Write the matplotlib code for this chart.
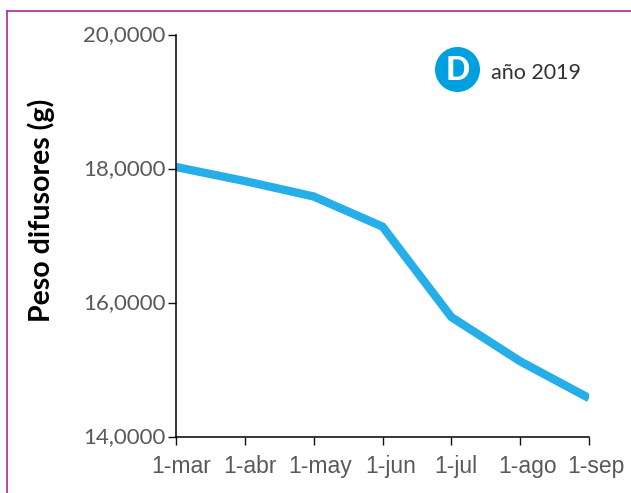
import matplotlib
matplotlib.use("Agg")
import matplotlib.pyplot as plt
from matplotlib.patches import Ellipse
from matplotlib.lines import Line2D
from matplotlib.transforms import ScaledTranslation

months = ["1-mar", "1-abr", "1-may", "1-jun", "1-jul", "1-ago", "1-sep"]
peso = [18.03, 17.82, 17.59, 17.14, 15.79, 15.13, 14.58]
yticks = [14, 16, 18, 20]
ylabels = ["14,0000", "16,0000", "18,0000", "20,0000"]
label_shift_px = [5, 5.5, 6, 8, 4, 7, 7]

W, H = 631, 493
fig = plt.figure(figsize=(W / 100, H / 100), dpi=100, facecolor="white")
ax = fig.add_axes([176 / W, 1 - 437 / H, (589 - 176) / W, (437 - 35) / H])
x = list(range(len(months)))
ax.plot(x, peso, color="#25AEE8", lw=6, solid_capstyle="butt", solid_joinstyle="miter")
ax.set_xlim(0, 6)
ax.set_ylim(14, 20)
ax.set_xticks(x)
ax.set_xticklabels(months, family="Liberation Sans", fontsize=16.5, color="#58595B")
ax.set_yticks(yticks)
ax.set_yticklabels(ylabels, family="Lato", fontsize=16, color="#58595B")
ax.tick_params(axis="x", length=6, width=1.0, pad=7, color="#111111")
ax.tick_params(axis="y", length=6, width=1.0, pad=1.5, color="#111111")
for lab, dx in zip(ax.get_xticklabels(), label_shift_px):
    lab.set_transform(lab.get_transform() + ScaledTranslation(dx / 100, 0, fig.dpi_scale_trans))
for lab in ax.get_yticklabels():
    lab.set_transform(lab.get_transform() + ScaledTranslation(0, 1.5 / 100, fig.dpi_scale_trans))
for s in ("top", "right"):
    ax.spines[s].set_visible(False)
for s in ("left", "bottom"):
    ax.spines[s].set_linewidth(1.1)
    ax.spines[s].set_color("#000000")

fig.text(41 / W, 1 - 210 / H, "Peso difusores (g)", rotation=90, family="Lato", weight="bold",
         fontsize=20.5, color="black", ha="center", va="center")

# panel frame
frame = "#B03A9E"
fig.add_artist(Line2D([6.5 / W, 6.5 / W], [0, 1 - 11 / H], color=frame, lw=1.3))
fig.add_artist(Line2D([6.5 / W, 1], [1 - 11 / H, 1 - 11 / H], color=frame, lw=1.3))

# badge
fig.add_artist(Ellipse((457.5 / W, 1 - 69.5 / H), 45 / W, 45 / H, transform=fig.transFigure,
                       facecolor="#009FDF", edgecolor="none"))
fig.text(458 / W, 1 - 71 / H, "D", family="Lato", weight="black", fontsize=23, color="white",
         ha="center", va="center")
fig.text(491 / W, 1 - 73 / H, "año 2019", family="Lato", fontsize=15.5, color="#333333",
         ha="left", va="center")
fig.savefig("out.png", dpi=100)
